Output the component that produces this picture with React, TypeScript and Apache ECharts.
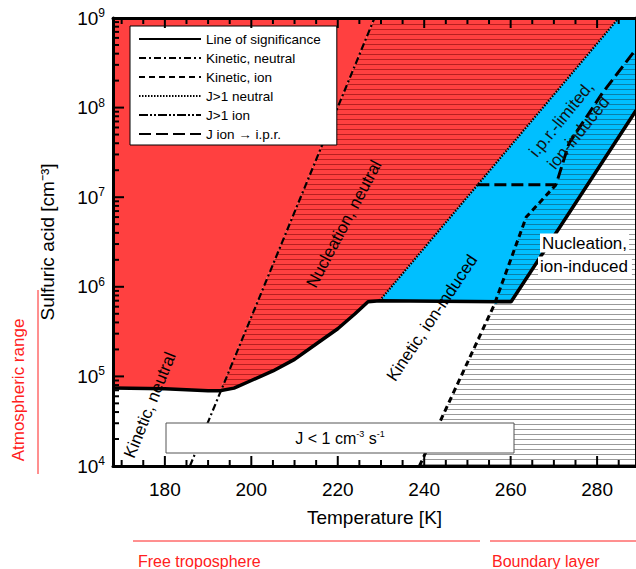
import { useEffect, useRef } from "react";
import * as echarts from "echarts";

const FONT = "Liberation Sans";

// line of significance [T, C]
const sigLine: [number, number][] = [
  [168, 7.4e4], [180, 7.3e4], [190, 6.9e4], [192.7, 6.9e4], [196, 7.4e4], [200, 9e4], [205, 1.15e5],
  [210, 1.55e5], [215, 2.3e5], [220, 3.4e5], [224, 5e5], [227, 6.8e5], [229.7, 7e5],
  [258, 6.8e5], [260.1, 6.8e5], [289, 9.3e7],
];
const kinNeutral: [number, number][] = [[185.8, 1e4], [228.5, 1e9]];
const kinIon: [number, number][] = [[238.9, 1e4], [256.2, 6.3e5], [263.6, 6e6], [270.5, 1.38e7]];
const jIonIpr: [number, number][] = [[252.3, 1.38e7], [270.5, 1.38e7], [273.5, 4e7], [281.2, 1.45e8], [289, 4.5e8]];
const jNeutral: [number, number][] = [[229.7, 7e5], [285, 1e9]];

const redSolid: [number, number][] = [[168, 7.4e4], [180, 7.3e4], [190, 6.9e4], [192.7, 6.9e4], [228.5, 1e9], [168, 1e9]];
const redHatch: [number, number][] = [
  [192.7, 6.9e4], [196, 7.4e4], [200, 9e4], [205, 1.15e5], [210, 1.55e5], [215, 2.3e5], [220, 3.4e5],
  [224, 5e5], [227, 6.8e5], [229.7, 7e5], [285, 1e9], [228.5, 1e9],
];
const blueSolid: [number, number][] = [[229.7, 7e5], [258, 6.8e5], [260.1, 6.8e5], [289, 9.3e7], [289, 1e9], [285, 1e9]];
const blueHatch: [number, number][] = [
  [256.2, 6.3e5], [263.6, 6e6], [270.5, 1.38e7], [273.5, 4e7], [281.2, 1.45e8], [289, 4.5e8],
  [289, 9.3e7], [260.1, 6.8e5], [258, 6.8e5],
];
const grayHatch: [number, number][] = [[238.9, 1e4], [256.2, 6.3e5], [258, 6.8e5], [260.1, 6.8e5], [289, 9.3e7], [289, 1e4]];

const xMin = 168;
const xMax = 289;
const yMin = 1e4;
const yMax = 1e9;
const xLabels = [180, 200, 220, 240, 260, 280];
const xMinor = [170, 175, 185, 190, 195, 205, 210, 215, 225, 230, 235, 245, 250, 255, 265, 270, 275, 285];
const yMajor = [1e4, 1e5, 1e6, 1e7, 1e8, 1e9];
const yMinor: number[] = [];
for (let e = 4; e < 9; e++) for (let k = 2; k <= 9; k++) yMinor.push(k * Math.pow(10, e));

function hatch(bg: string, line: string, period: number): string {
  const c = document.createElement("canvas");
  c.width = 8;
  c.height = period;
  const ctx = c.getContext("2d")!;
  ctx.fillStyle = bg;
  ctx.fillRect(0, 0, 8, period);
  ctx.fillStyle = line;
  ctx.fillRect(0, period - 1, 8, 1);
  return c.toDataURL();
}

function poly(name: string, pts: [number, number][], fill: any) {
  return {
    type: "custom",
    name,
    clip: true,
    silent: true,
    data: [0],
    z: 1,
    renderItem: (_p: any, api: any) => ({
      type: "polygon",
      shape: { points: pts.map((p) => api.coord(p)) },
      style: { fill, stroke: "none" },
    }),
  };
}

function line(name: string, pts: [number, number][], type: any, width: number) {
  return {
    type: "line",
    name,
    data: pts,
    symbol: "none",
    z: 5,
    itemStyle: { color: "transparent" },
    lineStyle: { color: "#000", width, type },
  };
}

const supRich = {
  b: { fontSize: 19, fontFamily: FONT, color: "#000" },
  s: { fontSize: 12, fontFamily: FONT, color: "#000", verticalAlign: "top", padding: [0, 0, 10, 0] },
};

export default function App() {
  const ref = useRef<HTMLDivElement>(null);
  useEffect(() => {
    if (!ref.current) return;
    const chart = echarts.init(ref.current, undefined, { renderer: "svg" });
    const redPat = { image: hatch("#ff4040", "#b82020", 5), repeat: "repeat" };
    const bluePat = { image: hatch("#00bfff", "#0a7fa8", 5), repeat: "repeat" };
    const grayPat = { image: hatch("#ffffff", "#9a9a9a", 5), repeat: "repeat" };
    const frame = { show: true, lineStyle: { color: "#000", width: 3 } };
    const graphics: any[] = [
      { type: "rect", shape: { x: 166, y: 423, width: 348, height: 30 }, style: { fill: "#fff", stroke: "#555", lineWidth: 1 }, z: 10 },
      {
        type: "text", x: 340, y: 438, z: 11,
        style: {
          text: "{a|J < 1 cm}{s|-3}{a| s}{s|-1}", align: "center", verticalAlign: "middle",
          rich: { a: { fontSize: 16, fontFamily: FONT, color: "#000" }, s: { fontSize: 9, fontFamily: FONT, color: "#000", verticalAlign: "top", padding: [0, 0, 8, 0] } },
        },
      },
      { type: "text", x: 150, y: 405, rotation: (68 * Math.PI) / 180, z: 11,
        style: { text: "Kinetic, neutral", fontSize: 17, fontFamily: FONT, fill: "#000", align: "center", verticalAlign: "middle" } },
      { type: "text", x: 344, y: 224, rotation: (62 * Math.PI) / 180, z: 11,
        style: { text: "Nucleation, neutral", fontSize: 17, fontFamily: FONT, fill: "#000", align: "center", verticalAlign: "middle" } },
      { type: "text", x: 432, y: 318, rotation: (56 * Math.PI) / 180, z: 11,
        style: { text: "Kinetic, ion-induced", fontSize: 17, fontFamily: FONT, fill: "#000", align: "center", verticalAlign: "middle" } },
      { type: "text", x: 570, y: 126, rotation: (51 * Math.PI) / 180, z: 11,
        style: { text: "i.p.r.-limited,\nion-induced", fontSize: 17, lineHeight: 22, fontFamily: FONT, fill: "#111", align: "center", verticalAlign: "middle" } },
      { type: "text", x: 540, y: 243, z: 11,
        style: { text: "Nucleation,", fontSize: 17, fontFamily: FONT, fill: "#000", backgroundColor: "#fff", verticalAlign: "middle", padding: [1, 2] } },
      { type: "text", x: 538, y: 266, z: 11,
        style: { text: "ion-induced", fontSize: 17, fontFamily: FONT, fill: "#000", backgroundColor: "#fff", verticalAlign: "middle", padding: [1, 4, 1, 2] } },
      { type: "text", x: 18, y: 390, rotation: Math.PI / 2,
        style: { text: "Atmospheric range", fontSize: 17, fontFamily: FONT, fill: "#ff2020", align: "center", verticalAlign: "middle" } },
      { type: "line", shape: { x1: 38, y1: 290, x2: 38, y2: 474 }, style: { stroke: "#ff2020", lineWidth: 1 } },
      { type: "line", shape: { x1: 133, y1: 541, x2: 480, y2: 541 }, style: { stroke: "#ff2020", lineWidth: 1 } },
      { type: "line", shape: { x1: 490, y1: 541, x2: 636, y2: 541 }, style: { stroke: "#ff2020", lineWidth: 1 } },
      { type: "text", x: 138, y: 561,
        style: { text: "Free troposphere", fontSize: 16, fontFamily: FONT, fill: "#ff2020", verticalAlign: "middle" } },
      { type: "text", x: 492, y: 561,
        style: { text: "Boundary layer", fontSize: 16, fontFamily: FONT, fill: "#ff2020", verticalAlign: "middle" } },
    ];
    chart.setOption({
      animation: false,
      textStyle: { fontFamily: FONT },
      grid: { left: 113, right: 0, top: 18, bottom: 103 },
      xAxis: [
        {
          type: "value", min: xMin, max: xMax, z: 10, position: "bottom",
          name: "Temperature [K]", nameLocation: "middle", nameGap: 42,
          nameTextStyle: { fontSize: 19, color: "#000", fontFamily: FONT },
          axisLine: frame, splitLine: { show: false }, axisTick: { show: false },
          axisLabel: { fontSize: 19, color: "#000", margin: 14, customValues: xLabels },
        },
        { type: "value", min: xMin, max: xMax, z: 10, position: "top", axisLine: frame, splitLine: { show: false },
          axisLabel: { show: false }, axisTick: { show: false } },
      ],
      yAxis: [
        {
          type: "log", logBase: 10, min: yMin, max: yMax, z: 10, position: "left",
          name: "Sulfuric acid [cm⁻³]", nameLocation: "middle", nameGap: 56,
          nameTextStyle: { fontSize: 19, color: "#000", fontFamily: FONT },
          axisLine: frame, splitLine: { show: false }, axisTick: { show: false },
          axisLabel: {
            margin: 8, customValues: yMajor, rich: supRich,
            formatter: (v: number) => `{b|10}{s|${Math.round(Math.log10(v))}}`,
          },
        },
        { type: "log", logBase: 10, min: yMin, max: yMax, z: 10, position: "right", axisLine: frame,
          splitLine: { show: false }, axisLabel: { show: false }, axisTick: { show: false } },
      ],
      legend: {
        left: 130, top: 26, orient: "vertical", itemWidth: 62, itemHeight: 9, itemGap: 5,
        backgroundColor: "#fff", borderColor: "#000", borderWidth: 1, padding: [6, 16, 4, 8],
        textStyle: { fontSize: 13.5, color: "#000", fontFamily: FONT },
        itemStyle: { color: "transparent", borderWidth: 0 },
        data: ["Line of significance", "Kinetic, neutral", "Kinetic, ion", "J>1 neutral", "J>1 ion", "J ion → i.p.r."],
        selectedMode: false, z: 20,
      },
      series: [
        poly("red", redSolid, "#ff4040"),
        poly("redh", redHatch, redPat),
        poly("blue", blueSolid, "#00bfff"),
        poly("blueh", blueHatch, bluePat),
        poly("gray", grayHatch, grayPat),
        line("Line of significance", sigLine, "solid", 3.5),
        line("Kinetic, neutral", kinNeutral, [7, 3, 2, 3], 2.2),
        line("Kinetic, ion", kinIon, [6, 4], 3),
        line("J>1 neutral", jNeutral, [1.5, 1.5], 2.2),
        line("J>1 ion", [], [9, 2, 2, 2, 2, 2], 2.2),
        line("J ion → i.p.r.", jIonIpr, [12, 5], 3),
      ],
      graphic: graphics,
    });

    // inside ticks on the frame, positioned through the axes' own scales
    const px = (p: [number, number]) => chart.convertToPixel({ xAxisIndex: 0, yAxisIndex: 0 }, p) as number[];
    const tickEls: any[] = [];
    const rect = (x: number, y: number, w: number, h: number) =>
      tickEls.push({ type: "rect", z: 30, silent: true, shape: { x, y, width: w, height: h }, style: { fill: "#000" } });
    const xt = (v: number, len: number) => {
      const b = px([v, yMin]);
      const t = px([v, yMax]);
      rect(b[0] - 1, b[1] - len, 2, len);
      rect(t[0] - 1, t[1], 2, len);
    };
    const yt = (v: number, len: number) => {
      const l = px([xMin, v]);
      rect(l[0], l[1] - 1, len, 2);
    };
    xLabels.forEach((v) => xt(v, 10));
    xMinor.forEach((v) => xt(v, 6));
    yMajor.forEach((v) => yt(v, 11));
    yMinor.forEach((v) => yt(v, 6));
    chart.setOption({ graphic: [...graphics, ...tickEls] });

    return () => chart.dispose();
  }, []);
  return <div ref={ref} style={{ position: "fixed", left: 0, top: 0, width: 636, height: 569, background: "#fff" }} />;
}
